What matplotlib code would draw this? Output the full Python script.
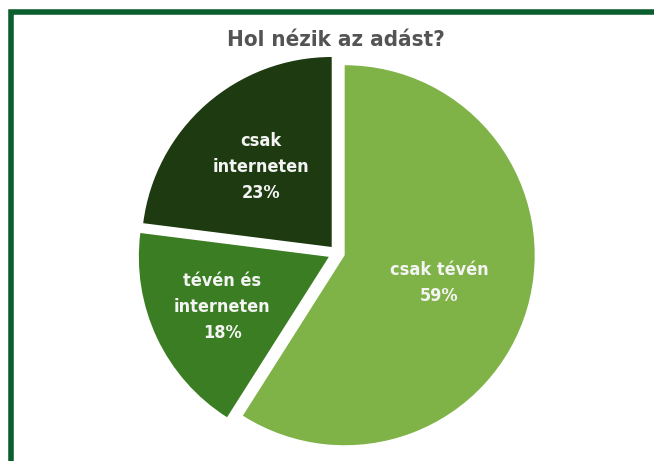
import numpy as np
import matplotlib.pyplot as plt
from matplotlib.patches import Rectangle

# data
labels = ['csak tévén', 'tévén és\ninterneten', 'csak\ninterneten']
shares = [59, 18, 23]
colors = ['#7FB347', '#3A7D22', '#1D3A10']
title = 'Hol nézik az adást?'

plt.rcParams['font.family'] = ['DejaVu Sans']
plt.rcParams['font.stretch'] = 'condensed'

fig = plt.figure(figsize=(6.54, 4.61), dpi=100)
ax = fig.add_axes([0, 0, 1, 1])
ax.axis('off')

# dark green frame, cut off on the right and at the bottom
ax.add_patch(Rectangle((10.5, -20), 700, 469, fill=False,
                       edgecolor='#0B5E2E', linewidth=4))


def fmt(pct, it=iter(labels)):
    return f'{next(it)}\n{pct:.0f}%'


# explode is in data units here (pixels)
wedges, texts, autotexts = ax.pie(
    shares, colors=colors, startangle=90, counterclock=False,
    explode=[8, 9, 8], center=(337, 208), radius=190,
    autopct=fmt, pctdistance=0.5,
    textprops=dict(color='#F4F4F4', fontsize=13, fontweight='bold',
                   stretch='condensed', linespacing=1.58))

# move each label along its wedge's bisector
label_dist = [0.52, 0.62, 0.56]
for w, t, d in zip(wedges, autotexts, label_dist):
    mid = np.deg2rad((w.theta1 + w.theta2) / 2)
    cx, cy = w.center
    t.set_position((cx + d * w.r * np.cos(mid), cy + d * w.r * np.sin(mid)))

ax.set_xlim(0, 654)
ax.set_ylim(0, 461)
ax.set_aspect('auto')

ax.text(336, 421, title, ha='center', va='center', fontsize=16,
        fontweight='bold', stretch='condensed', color='#545454')

fig.savefig('out.png', dpi=100)
